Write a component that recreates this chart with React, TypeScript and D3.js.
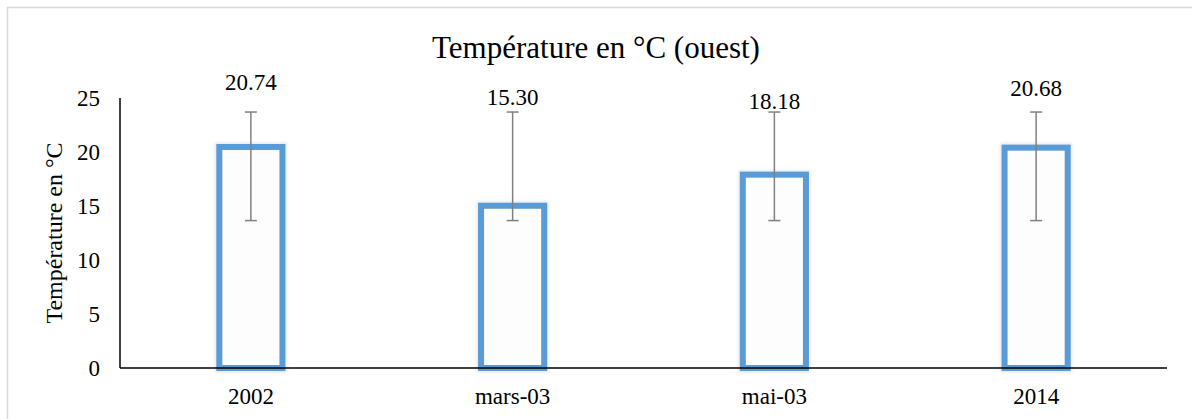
import * as d3 from 'd3';
import { useEffect, useRef } from 'react';

const categories = ['2002', 'mars-03', 'mai-03', '2014'];
const values = [20.74, 15.3, 18.18, 20.68];
const errLow = [13.65, 13.65, 13.65, 13.65];
const errHigh = [23.7, 23.7, 23.7, 23.7];
const yTicks = [0, 5, 10, 15, 20, 25];
// the value labels were dragged by hand in the original, px above the error cap
const labelLift = [22, 7, 3, 16];

const W = 1192;
const H = 419;

const App = () => {
  const ref = useRef<SVGSVGElement>(null);

  useEffect(() => {
    const svg = d3.select(ref.current);
    svg.selectAll('*').remove();

    const font = '"Liberation Serif", "Times New Roman", serif';
    const left = 120;
    const right = 1167;
    const top = 98;
    const bottom = 368;

    const x = d3.scaleBand<string>()
      .domain(categories)
      .range([left, right])
      .paddingInner(0.736)
      .paddingOuter(0.368);
    const y = d3.scaleLinear().domain([0, 25]).range([bottom, top]);

    svg.append('rect')
      .attr('x', 7.5).attr('y', 7.5)
      .attr('width', W + 20).attr('height', H + 20)
      .attr('fill', '#fff').attr('stroke', '#d9d9d9').attr('stroke-width', 1.5);

    svg.append('text')
      .attr('x', W / 2).attr('y', 58)
      .attr('text-anchor', 'middle')
      .attr('font-family', font).attr('font-size', 31)
      .text('Température en °C (ouest)');

    svg.append('text')
      .attr('transform', `translate(62,${(top + bottom) / 2}) rotate(-90)`)
      .attr('text-anchor', 'middle')
      .attr('font-family', font).attr('font-size', 24)
      .text('Température en °C');

    // y tick labels, no tick marks
    svg.append('g').selectAll('text')
      .data(yTicks)
      .enter()
      .append('text')
      .attr('x', 100)
      .attr('y', d => y(d))
      .attr('dy', '0.35em')
      .attr('text-anchor', 'end')
      .attr('font-family', font).attr('font-size', 23)
      .text(d => d);

    const defs = svg.append('defs');
    const glow = defs.append('filter').attr('id', 'glow').attr('x', '-20%').attr('y', '-20%').attr('width', '140%').attr('height', '140%');
    glow.append('feGaussianBlur').attr('stdDeviation', 1.5);

    const bw = x.bandwidth();
    const sw = 6;
    const bars = svg.append('g');
    bars.selectAll('rect.glow')
      .data(values)
      .enter()
      .append('rect')
      .attr('class', 'glow')
      .attr('x', (d, i) => x(categories[i])! + sw / 2)
      .attr('y', d => y(d) + sw / 2)
      .attr('width', bw - sw)
      .attr('height', d => y(0) - y(d) - sw / 2)
      .attr('fill', 'none')
      .attr('stroke', '#e4e8ee')
      .attr('stroke-width', sw + 3)
      .attr('filter', 'url(#glow)');
    bars.selectAll('rect.bar')
      .data(values)
      .enter()
      .append('rect')
      .attr('class', 'bar')
      .attr('x', (d, i) => x(categories[i])! + sw / 2)
      .attr('y', d => y(d) + sw / 2)
      .attr('width', bw - sw)
      .attr('height', d => y(0) - y(d) - sw / 2)
      .attr('fill', '#fdfdfe')
      .attr('stroke', '#5b9bd5')
      .attr('stroke-width', sw);

    // axes lines
    svg.append('line')
      .attr('x1', left).attr('x2', left)
      .attr('y1', top).attr('y2', bottom)
      .attr('stroke', '#000').attr('stroke-width', 1.5);
    svg.append('line')
      .attr('x1', left).attr('x2', right)
      .attr('y1', bottom).attr('y2', bottom)
      .attr('stroke', '#000').attr('stroke-width', 1.5);

    // error bars
    const err = svg.append('g').attr('stroke', '#808080').attr('stroke-width', 1.5);
    categories.forEach((c, i) => {
      const cx = x(c)! + bw / 2;
      err.append('line').attr('x1', cx).attr('x2', cx).attr('y1', y(errHigh[i])).attr('y2', y(errLow[i]));
      err.append('line').attr('x1', cx - 6).attr('x2', cx + 6).attr('y1', y(errHigh[i])).attr('y2', y(errHigh[i]));
      err.append('line').attr('x1', cx - 6).attr('x2', cx + 6).attr('y1', y(errLow[i])).attr('y2', y(errLow[i]));
    });

    // value labels
    svg.append('g').selectAll('text')
      .data(values)
      .enter()
      .append('text')
      .attr('x', (d, i) => x(categories[i])! + bw / 2)
      .attr('y', (d, i) => y(errHigh[i]) - labelLift[i])
      .attr('text-anchor', 'middle')
      .attr('font-family', font).attr('font-size', 23)
      .text(d => d.toFixed(2));

    // category labels
    svg.append('g').selectAll('text')
      .data(categories)
      .enter()
      .append('text')
      .attr('x', d => x(d)! + bw / 2)
      .attr('y', 404)
      .attr('text-anchor', 'middle')
      .attr('font-family', font).attr('font-size', 23)
      .text(d => d);
  }, []);

  return (
    <svg
      ref={ref}
      width={W}
      height={H}
      style={{ position: 'absolute', left: 0, top: 0, background: '#fff' }}
    />
  );
};

export default App;
